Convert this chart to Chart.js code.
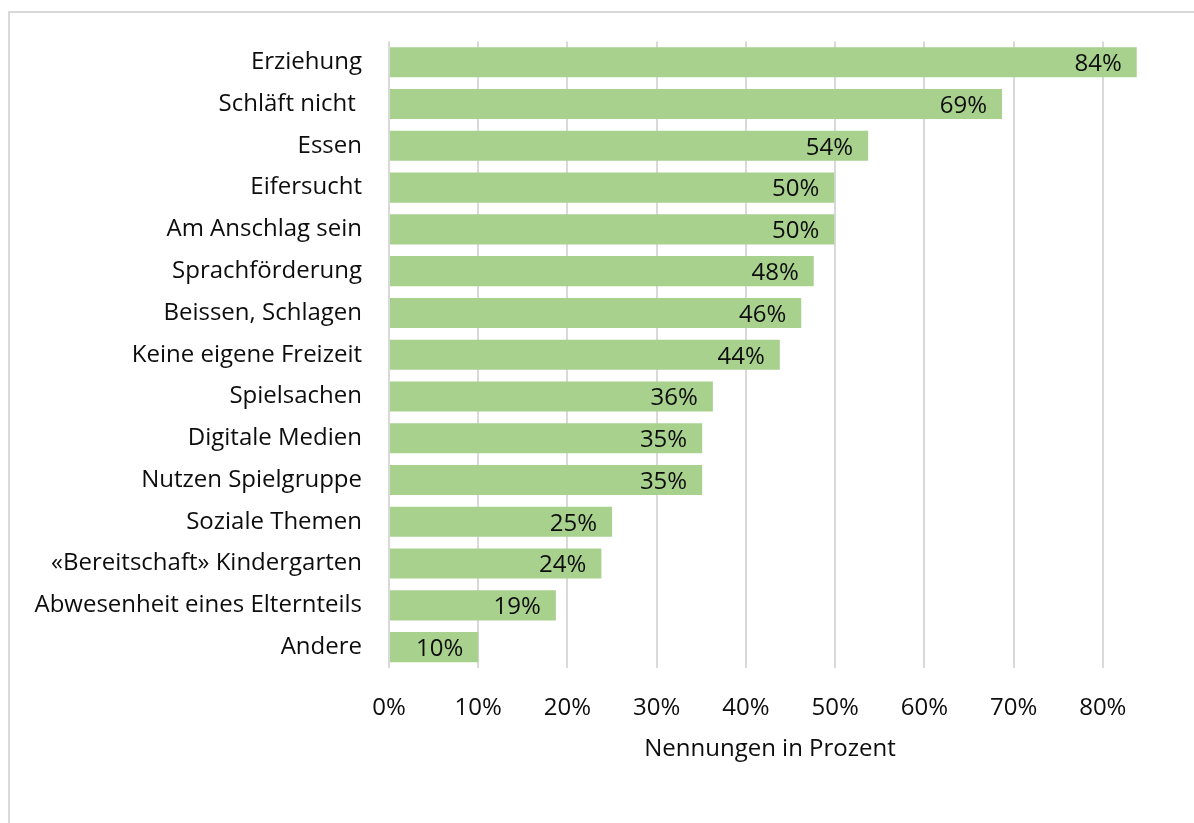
<!DOCTYPE html>
<html>
<head>
<meta charset="utf-8">
<script src="https://cdn.jsdelivr.net/npm/chart.js@4/dist/chart.umd.min.js"></script>
<style>
  html, body { margin: 0; padding: 0; background: #fff; }
  body { width: 1194px; height: 823px; position: relative; overflow: hidden; }
  #frame { position: absolute; left: 8px; top: 11px; width: 1200px; height: 830px; border: 2px solid #d9d9d9; box-sizing: border-box; }
  #wrap { position: absolute; left: 0; top: 0; width: 1194px; height: 823px; }
</style>
</head>
<body>
<div id="frame"></div>
<div id="wrap"><canvas id="c" width="1194" height="823"></canvas></div>
<script>
const categories = [
  "Erziehung", "Schläft nicht ", "Essen", "Eifersucht", "Am Anschlag sein",
  "Sprachförderung", "Beissen, Schlagen", "Keine eigene Freizeit", "Spielsachen",
  "Digitale Medien", "Nutzen Spielgruppe", "Soziale Themen",
  "«Bereitschaft» Kindergarten", "Abwesenheit eines Elternteils", "Andere"
];
const values = [83.8, 68.7, 53.7, 49.9, 49.9, 47.6, 46.2, 43.8, 36.3, 35.1, 35.1, 25.0, 23.8, 18.7, 10.0];
const tickValues = [0, 10, 20, 30, 40, 50, 60, 70, 80];
const axisTitle = "Nennungen in Prozent";

const FONT = "'Open Sans', sans-serif";
const FSIZE = 24;

const labelPlugin = {
  id: 'barLabels',
  afterDatasetsDraw(chart) {
    const ctx = chart.ctx;
    const meta = chart.getDatasetMeta(0);
    ctx.save();
    ctx.font = FSIZE + "px " + FONT;
    ctx.fillStyle = "#0d0d0d";
    ctx.textAlign = "right";
    ctx.textBaseline = "middle";
    meta.data.forEach((el, i) => {
      ctx.fillText(Math.round(values[i]) + "%", el.x - 15, el.y + 2);
    });
    ctx.restore();
  }
};

new Chart(document.getElementById('c'), {
  type: 'bar',
  data: {
    labels: categories,
    datasets: [{
      data: values,
      backgroundColor: '#a9d18e',
      borderWidth: 0,
      barPercentage: 0.72,
      categoryPercentage: 1.0
    }]
  },
  options: {
    indexAxis: 'y',
    responsive: false,
    animation: false,
    events: [],
    layout: { padding: { left: 0, right: 43, top: 41, bottom: 55 } },
    plugins: { legend: { display: false }, tooltip: { enabled: false } },
    scales: {
      x: {
        min: 0,
        max: 85.4,
        afterBuildTicks(scale) {
          scale.ticks = tickValues.map(v => ({ value: v }));
        },
        afterFit(scale) { scale.height = 768 - 668; },
        border: { display: false },
        grid: { color: '#d9d9d9', lineWidth: 2, drawTicks: false },
        ticks: {
          padding: 26,
          color: '#0d0d0d',
          font: { family: FONT, size: FSIZE },
          callback: v => v + '%'
        },
        title: {
          display: true,
          text: axisTitle,
          color: '#0d0d0d',
          font: { family: FONT, size: FSIZE },
          padding: { top: 4, bottom: 4 }
        }
      },
      y: {
        afterFit(scale) { scale.width = 389; },
        border: { display: false },
        grid: { display: false, drawTicks: false },
        ticks: {
          padding: 27,
          color: '#0d0d0d',
          font: { family: FONT, size: FSIZE }
        }
      }
    }
  },
  plugins: [labelPlugin]
});
</script>
</body>
</html>
